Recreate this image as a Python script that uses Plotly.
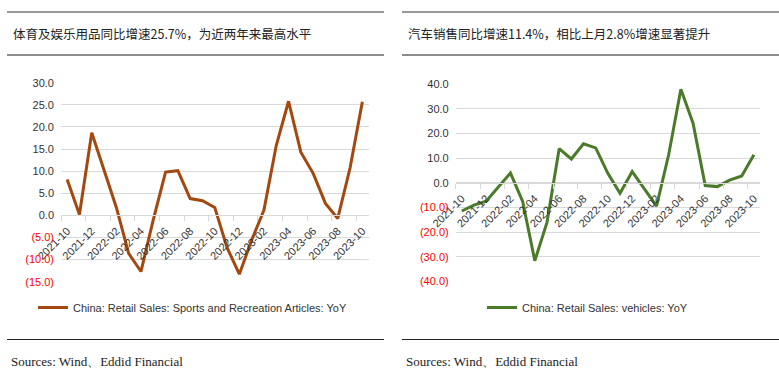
import plotly.graph_objects as go

W, H = 779, 373

months = ["2021-10", "2021-11", "2021-12", "2022-01", "2022-02", "2022-03", "2022-04",
          "2022-05", "2022-06", "2022-07", "2022-08", "2022-09", "2022-10", "2022-11",
          "2022-12", "2023-01", "2023-02", "2023-03", "2023-04", "2023-05", "2023-06",
          "2023-07", "2023-08", "2023-09", "2023-10"]

sports_yoy = [8.1, 0.2, 18.7, 10.2, 1.8, -8.6, -12.7, -1.0, 9.8, 10.1, 3.8, 3.3, 1.8,
              -7.3, -13.3, -5.6, 1.2, 15.8, 25.8, 14.3, 9.5, 2.7, -0.7, 10.7, 25.7]

vehicles_yoy = [-11.4, -9.0, -7.4, -1.7, 4.0, -7.5, -31.6, -16.0, 13.9, 9.7, 15.9, 14.2,
                3.9, -4.2, 4.6, -2.4, -9.4, 11.5, 38.0, 24.2, -1.1, -1.5, 1.1, 2.8, 11.4]

left_yticks = [-15, -10, -5, 0, 5, 10, 15, 20, 25, 30]
right_yticks = [-40, -30, -20, -10, 0, 10, 20, 30, 40]

left_title = "体育及娱乐用品同比增速25.7%，为近两年来最高水平"
right_title = "汽车销售同比增速11.4%，相比上月2.8%增速显著提升"
source_text = "Sources: Wind、Eddid Financial"
left_name = "China: Retail Sales: Sports and Recreation Articles: YoY"
right_name = "China: Retail Sales: vehicles: YoY"

BROWN = "#A3480F"
GREEN = "#4A7A2A"
GRID = "#D9D9D9"
RED = "#FF0000"
TXT = "#333333"
NUMFONT = "Liberation Sans, Arial, sans-serif"
CJK = "Noto Sans CJK SC, sans-serif"


def fmt(v):
    s = f"{abs(v):.1f}"
    if v < 0:
        return f'<span style="color:{RED}">({s})</span>'
    return s


def px(x):
    return x / W


def py(y):
    return 1 - y / H


fig = go.Figure()
fig.add_trace(go.Scatter(x=months, y=sports_yoy, mode="lines", name=left_name,
                         line=dict(color=BROWN, width=3), xaxis="x", yaxis="y",
                         legend="legend"))
fig.add_trace(go.Scatter(x=months, y=vehicles_yoy, mode="lines", name=right_name,
                         line=dict(color=GREEN, width=3), xaxis="x2", yaxis="y2",
                         legend="legend2"))

# domains (pixels -> paper)
L_x = [px(61), px(368.5)]
L_y = [py(281.7), py(82.7)]
R_x = [px(455.7), px(760)]
R_y = [py(281.5), py(84.3)]
L_range = [-15, 30]
R_range = [-40, 40]


def zero_pos(dom, rng):
    return dom[0] + (0 - rng[0]) / (rng[1] - rng[0]) * (dom[1] - dom[0])


xcommon = dict(type="category", tickson="boundaries", dtick=2, tickangle=-45,
               ticks="outside", ticklen=5, tickcolor=GRID, showline=True,
               linecolor=GRID, linewidth=1, showgrid=False, anchor="free",
               automargin=False, ticklabelstandoff=4,
               tickfont=dict(family=NUMFONT, size=11, color=TXT),
               range=[-0.5, 24.5])
ycommon = dict(showgrid=True, gridcolor=GRID, gridwidth=1, zeroline=False,
               showline=False, ticks="", automargin=False,
               tickfont=dict(family=NUMFONT, size=11, color=TXT),
               ticklabelstandoff=6)

fig.update_layout(
    width=W, height=H, margin=dict(l=0, r=0, t=0, b=0, autoexpand=False),
    paper_bgcolor="white", plot_bgcolor="white",
    xaxis=dict(domain=L_x, position=zero_pos(L_y, L_range), **xcommon),
    yaxis=dict(domain=L_y, range=L_range, anchor="x", tickvals=left_yticks,
               ticktext=[fmt(v) for v in left_yticks], **ycommon),
    xaxis2=dict(domain=R_x, position=zero_pos(R_y, R_range), **xcommon),
    yaxis2=dict(domain=R_y, range=R_range, anchor="x2", tickvals=right_yticks,
                ticktext=[fmt(v) for v in right_yticks], **ycommon),
    legend=dict(x=px(33), y=py(293), xanchor="left", yanchor="top",
                font=dict(family=NUMFONT, size=11, color=TXT), bgcolor="rgba(0,0,0,0)"),
    legend2=dict(x=px(482), y=py(293), xanchor="left", yanchor="top",
                 font=dict(family=NUMFONT, size=11, color=TXT), bgcolor="rgba(0,0,0,0)"),
    showlegend=True,
)

shapes = []
for x0, x1 in [(7, 384), (402, 779)]:
    shapes.append(dict(type="line", xref="paper", yref="paper", x0=px(x0), x1=px(x1),
                       y0=py(12), y1=py(12), line=dict(color="#333333", width=1)))
    shapes.append(dict(type="line", xref="paper", yref="paper", x0=px(x0), x1=px(x1),
                       y0=py(55), y1=py(55), line=dict(color="#666666", width=1.6)))
    shapes.append(dict(type="line", xref="paper", yref="paper", x0=px(x0), x1=px(x1),
                       y0=py(339.5), y1=py(339.5), line=dict(color="#222222", width=1)))
fig.update_layout(shapes=shapes)

annots = [
    dict(text=left_title, x=px(11), y=py(33.5), xanchor="left", yanchor="middle"),
    dict(text=right_title, x=px(405.5), y=py(33.5), xanchor="left", yanchor="middle"),
]
for a in annots:
    a.update(xref="paper", yref="paper", showarrow=False,
             font=dict(family=CJK, size=12.5, color="#222222"))
for x0 in [9, 404]:
    annots.append(dict(text=source_text, x=px(x0), y=py(361), xanchor="left",
                       yanchor="middle", xref="paper", yref="paper", showarrow=False,
                       font=dict(family="Liberation Serif, serif", size=13, color="#222222")))
fig.update_layout(annotations=annots)

fig.write_html("out.html", config={"displayModeBar": False},
               post_script="document.body.style.margin='0';document.body.style.overflow='hidden';")
